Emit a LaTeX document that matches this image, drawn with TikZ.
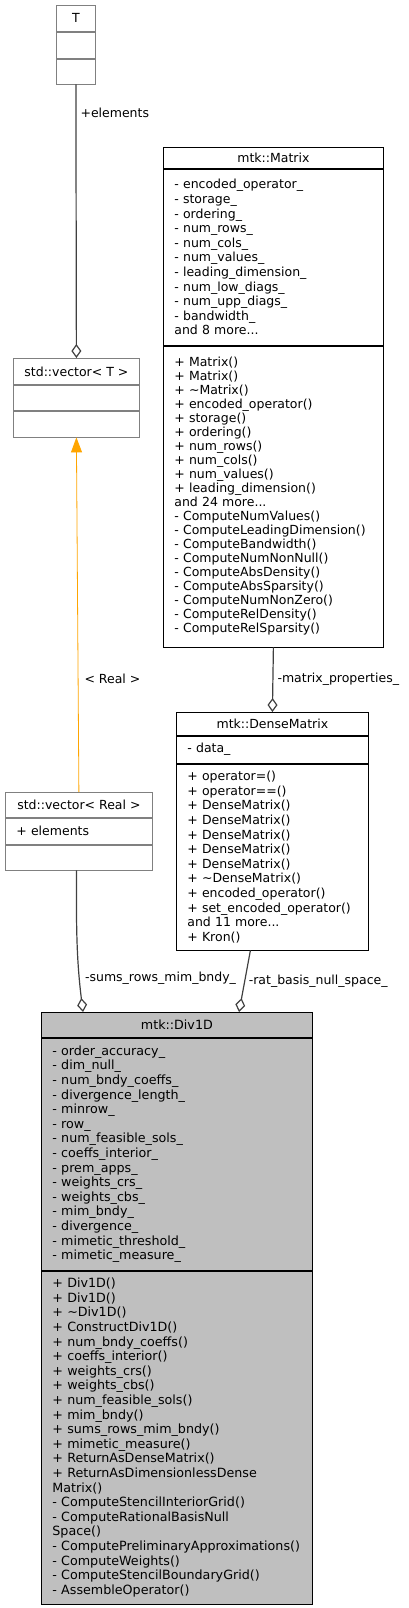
\documentclass[tikz,border=0pt]{standalone}
\usepackage{fontspec}
\setmainfont{DejaVu Sans}
\usepackage{tikz}
\usetikzlibrary{positioning,arrows.meta}

\definecolor{tmplorange}{RGB}{255,165,0}

\newcommand{\umlfont}{\fontsize{12.5}{14}\selectfont}
\newcommand{\densefont}{\fontsize{12.5}{14.6}\selectfont}
\newcommand{\divfont}{\fontsize{12.7}{14.6}\selectfont}

\tikzset{
  clsbox/.style={draw=black, line width=0.8pt, anchor=north west, inner sep=0pt, font=\umlfont},
  clshead/.style={clsbox, align=center},
  clsbody/.style={clsbox, align=left, inner xsep=11pt},
  extcls/.style={draw=black!50},
  maincls/.style={fill=black!25},
  useedge/.style={draw=black!75, line width=1.2pt},
  aggredge/.style={useedge, -{Diamond[open, length=14pt, width=10pt, line width=1.2pt]}},
  tmpledge/.style={draw=tmplorange, line width=0.8pt, -{Triangle[length=15pt, width=11pt]}},
  edgelbl/.style={font=\umlfont, inner sep=0pt, anchor=west}
}

\begin{document}
\begin{tikzpicture}[x=1pt,y=-1pt]
\useasboundingbox (0,0) rectangle (408,1608);

              %T
              \node[clshead, extcls, minimum width=39pt, minimum height=26pt] (t) at (56,5) {T};
              \node[clsbody, extcls, text width=17pt, minimum height=26pt] (tattr) at (t.south west) {};
              \node[clsbody, extcls, text width=17pt, minimum height=25pt] (tops) at (tattr.south west) {};

              %std::vector< T >
              \node[clshead, extcls, minimum width=126pt, minimum height=26pt] (vect) at (13,358) {std::vector< T >};
              \node[clsbody, extcls, text width=104pt, minimum height=25pt] (vectattr) at (vect.south west) {};
              \node[clsbody, extcls, text width=104pt, minimum height=26pt] (vectops) at (vectattr.south west) {};

              %std::vector< Real >
              \node[clshead, extcls, minimum width=147pt, minimum height=25pt] (vecr) at (5,792) {std::vector< Real >};
              \node[clsbody, extcls, text width=125pt, minimum height=26pt] (vecrattr) at (vecr.south west) {+ elements};
              \node[clsbody, extcls, text width=125pt, minimum height=25pt] (vecrops) at (vecrattr.south west) {};

              %mtk::Matrix
              \node[clshead, minimum width=220pt, minimum height=21pt] (mat) at (163,147) {mtk::Matrix};
              \node[clsbody, text width=198pt, minimum height=176pt, font=\densefont] (matattr) at (mat.south west) {- encoded\_operator\_\\- storage\_\\- ordering\_\\- num\_rows\_\\- num\_cols\_\\- num\_values\_\\- leading\_dimension\_\\- num\_low\_diags\_\\- num\_upp\_diags\_\\- bandwidth\_\\and 8 more...};
              \node[clsbody, text width=198pt, minimum height=301pt] (matops) at (matattr.south west) {+ Matrix()\\+ Matrix()\\+ \textasciitilde Matrix()\\+ encoded\_operator()\\+ storage()\\+ ordering()\\+ num\_rows()\\+ num\_cols()\\+ num\_values()\\+ leading\_dimension()\\and 24 more...\\- ComputeNumValues()\\- ComputeLeadingDimension()\\- ComputeBandwidth()\\- ComputeNumNonNull()\\- ComputeAbsDensity()\\- ComputeAbsSparsity()\\- ComputeNumNonZero()\\- ComputeRelDensity()\\- ComputeRelSparsity()};

              %mtk::DenseMatrix
              \node[clshead, minimum width=192pt, minimum height=23pt] (dense) at (176,712) {mtk::DenseMatrix};
              \node[clsbody, text width=170pt, minimum height=27pt] (denseattr) at (dense.south west) {- data\_};
              \node[clsbody, text width=170pt, minimum height=186pt, font=\densefont] (denseops) at (denseattr.south west) {+ operator=()\\+ operator==()\\+ DenseMatrix()\\+ DenseMatrix()\\+ DenseMatrix()\\+ DenseMatrix()\\+ DenseMatrix()\\+ \textasciitilde DenseMatrix()\\+ encoded\_operator()\\+ set\_encoded\_operator()\\and 11 more...\\+ Kron()};

              %mtk::Div1D
              \node[clshead, maincls, minimum width=271pt, minimum height=25pt, font=\divfont] (div) at (41,1012) {mtk::Div1D};
              \node[clsbody, maincls, text width=249pt, minimum height=232pt, font=\divfont] (divattr) at (div.south west) {- order\_accuracy\_\\- dim\_null\_\\- num\_bndy\_coeffs\_\\- divergence\_length\_\\- minrow\_\\- row\_\\- num\_feasible\_sols\_\\- coeffs\_interior\_\\- prem\_apps\_\\- weights\_crs\_\\- weights\_cbs\_\\- mim\_bndy\_\\- divergence\_\\- mimetic\_threshold\_\\- mimetic\_measure\_};
              \node[clsbody, maincls, text width=249pt, minimum height=333pt, font=\divfont] (divops) at (divattr.south west) {+ Div1D()\\+ Div1D()\\+ \textasciitilde Div1D()\\+ ConstructDiv1D()\\+ num\_bndy\_coeffs()\\+ coeffs\_interior()\\+ weights\_crs()\\+ weights\_cbs()\\+ num\_feasible\_sols()\\+ mim\_bndy()\\+ sums\_rows\_mim\_bndy()\\+ mimetic\_measure()\\+ ReturnAsDenseMatrix()\\+ ReturnAsDimensionlessDense\\Matrix()\\- ComputeStencilInteriorGrid()\\- ComputeRationalBasisNull\\Space()\\- ComputePreliminaryApproximations()\\- ComputeWeights()\\- ComputeStencilBoundaryGrid()\\- AssembleOperator()};

              %T>vector
              \draw[aggredge] (tops.south) -- node[edgelbl, pos=0.105, xshift=4pt] {+elements} (vect.north);

              %vector<Real>>vector<T>
              \draw[tmpledge] (vecr.north) -- node[edgelbl, pos=0.32, xshift=6pt] {< Real >} (vectops.south);

              %Matrix>DenseMatrix
              \draw[aggredge] (matops.south) -- node[edgelbl, pos=0.5, xshift=4pt] {-matrix\_properties\_} (dense.north);

              %members>Div1D
              \draw[aggredge] ([xshift=-2.5pt]vecrops.south) to[out=-90, in=97] node[edgelbl, pos=0.78, xshift=5pt] {-sums\_rows\_mim\_bndy\_} ([xshift=42pt]div.north west);
              \draw[aggredge] ([xshift=-22pt]denseops.south) -- node[edgelbl, pos=0.5, xshift=3.5pt] {-rat\_basis\_null\_space\_} ([xshift=198pt]div.north west);

\end{tikzpicture}
\end{document}
